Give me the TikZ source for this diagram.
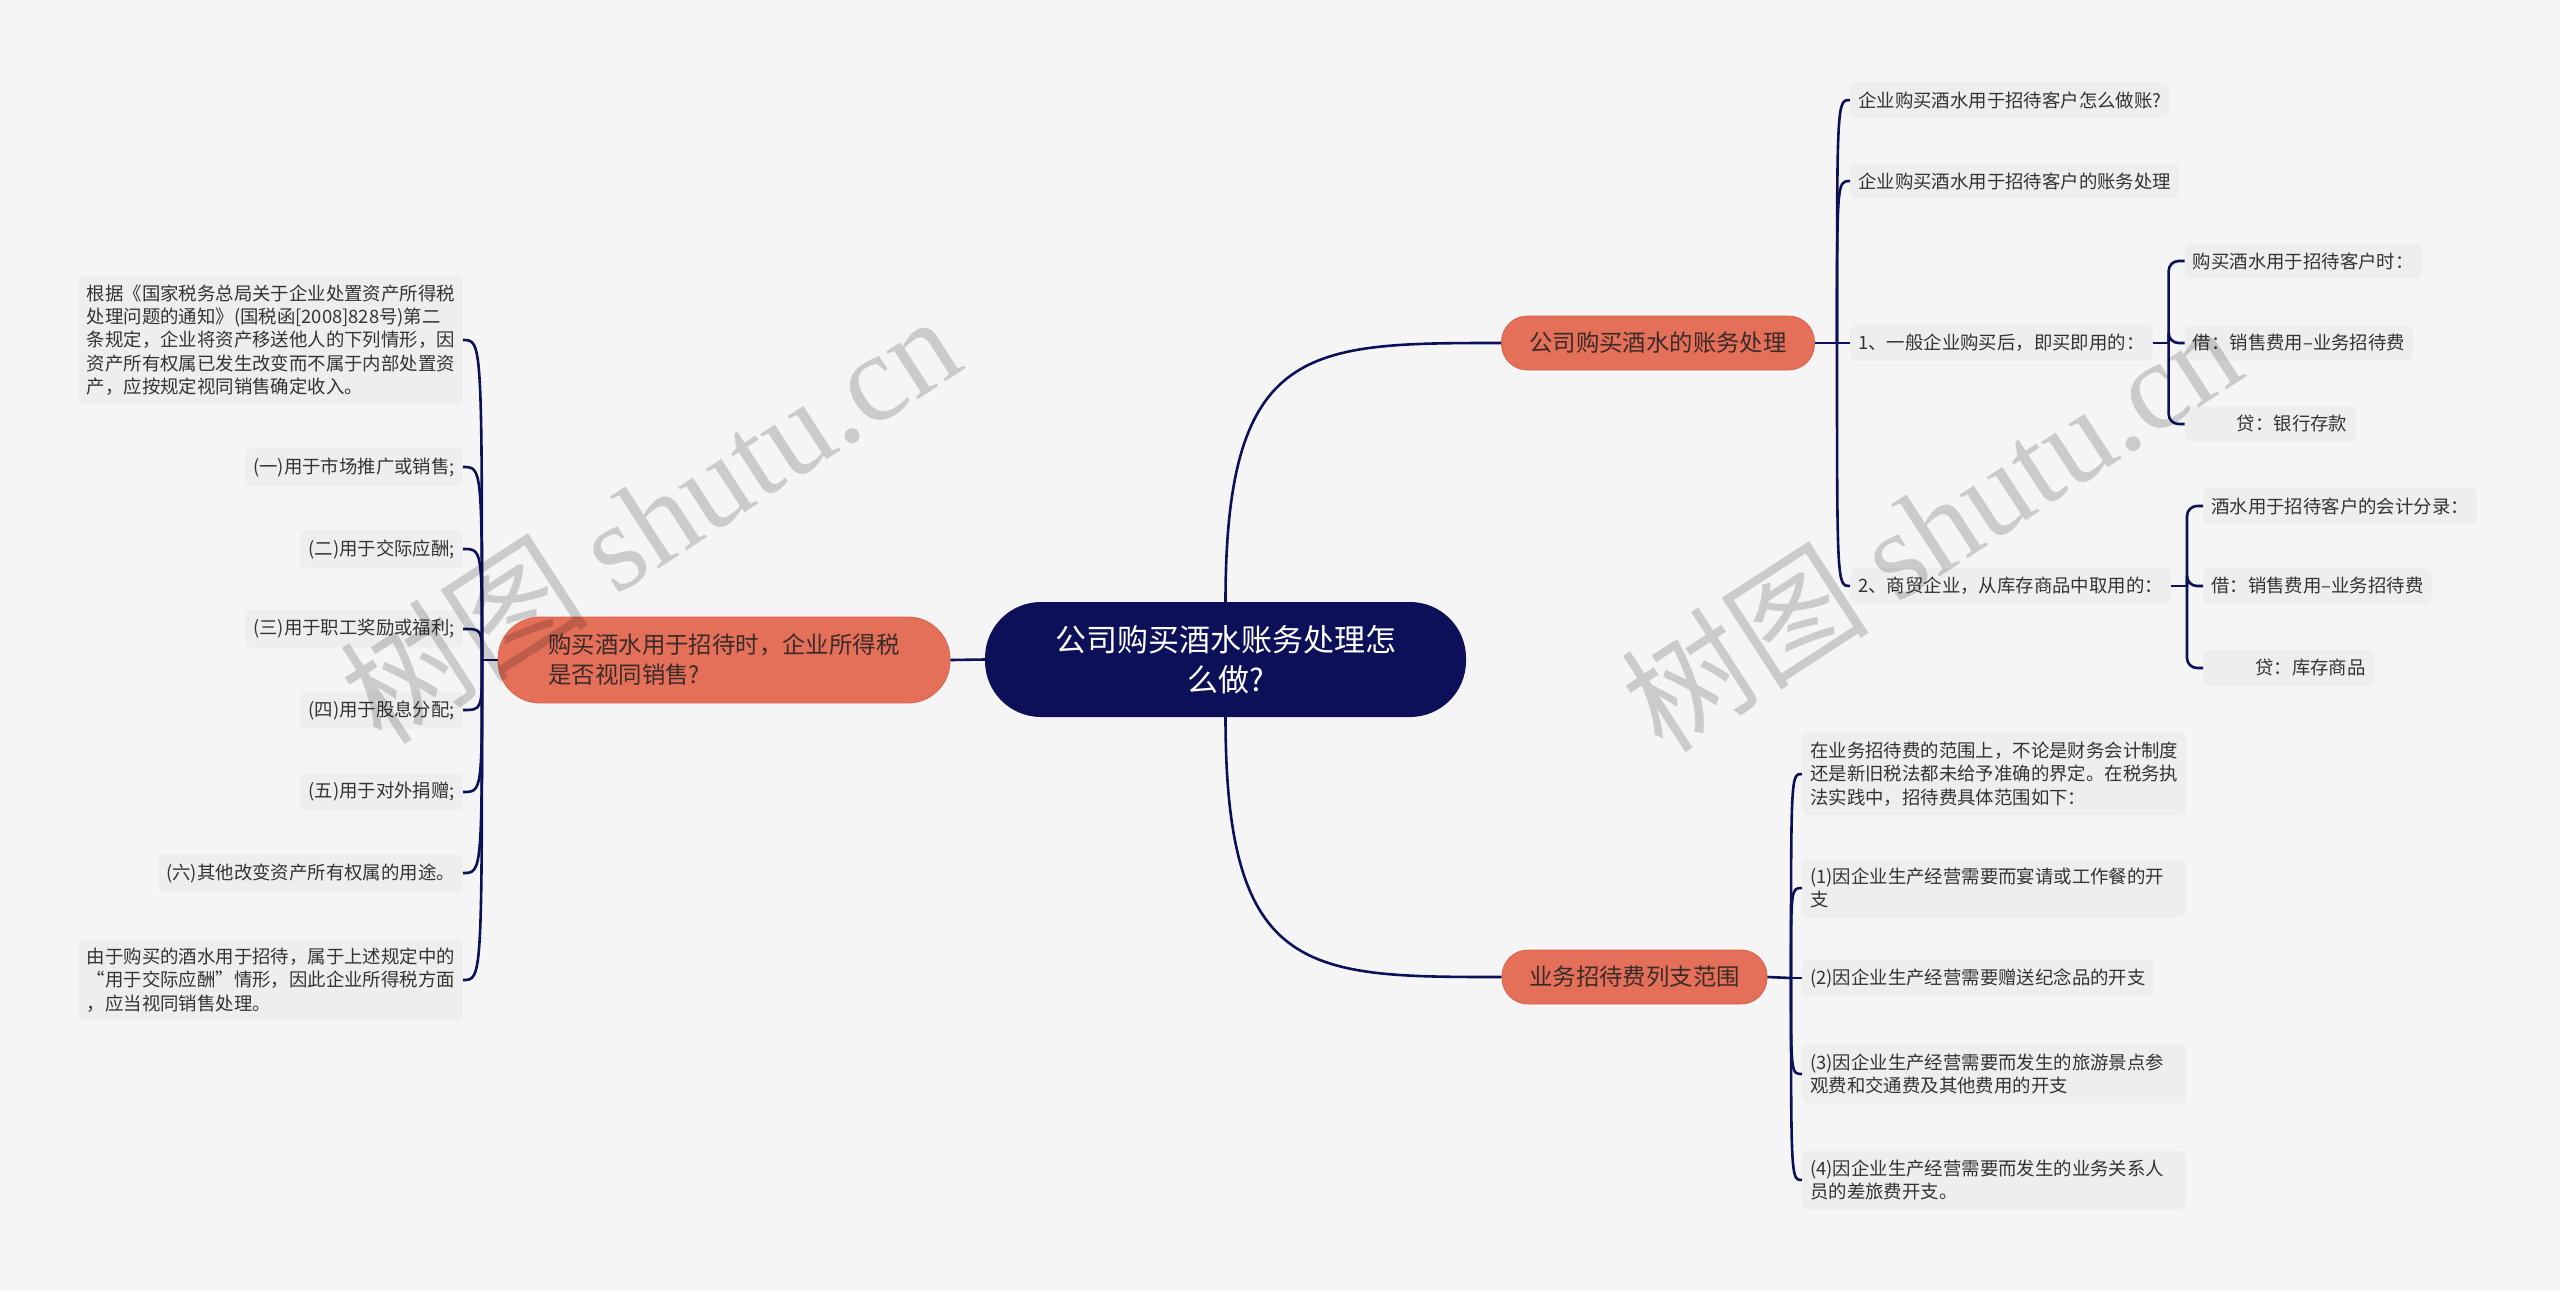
\documentclass[tikz,border=0pt]{standalone}
\usepackage{fontspec}
\setmainfont{Noto Sans CJK SC}
\newfontfamily\wmserif{Liberation Serif}
\usetikzlibrary{calc}
\definecolor{bg}{HTML}{F5F5F5}
\definecolor{navy}{HTML}{0C1059}
\definecolor{coral}{HTML}{E4705A}
\definecolor{coralb}{HTML}{D9624C}
\definecolor{leafbg}{HTML}{EEEEEE}
\definecolor{leaftext}{HTML}{333333}
\definecolor{maintext}{HTML}{3A2A28}
\begin{document}
\begin{tikzpicture}[x=1pt,y=-1pt,
  leaf/.style={fill=leafbg, rounded corners=6pt, text=leaftext,
    font=\fontsize{18.4}{23.3}\selectfont, inner xsep=8pt, inner ysep=9pt, align=left},
  wide/.style={leaf, text width=368pt},
  mainnode/.style={fill=coral, draw=coralb, line width=0.8pt, text=maintext,
    font=\fontsize{23.4}{30}\selectfont, rounded corners=26pt, minimum height=54pt, inner sep=0pt},
  rootnode/.style={fill=navy, text=white, font=\fontsize{31}{40}\selectfont,
    rounded corners=56pt, minimum width=481pt, minimum height=115pt, align=center, inner sep=0pt},
  link/.style={draw=navy, line width=2.6pt},
  wmark/.style={rotate=33, text=black, text opacity=0.17, font=\fontsize{125}{125}\selectfont, inner sep=0pt}]
\fill[bg] (0,0) rectangle (2560,1291);
\useasboundingbox (0,0) rectangle (2560,1291);

% main nodes
\node[rootnode] (root) at (1225.5,659.5) {公司购买酒水账务处理怎\\么做?};
\node[mainnode, minimum width=452pt, minimum height=86pt, rounded corners=42pt, align=left] (L) at (724,660) {购买酒水用于招待时，企业所得税\\是否视同销售?};
\node[mainnode, minimum width=313pt] (R1) at (1658,343) {公司购买酒水的账务处理};
\node[mainnode, minimum width=265pt] (R2) at (1634.5,977) {业务招待费列支范围};

% left leaves
\node[wide, anchor=east] (c1) at (463,340) {根据《国家税务总局关于企业处置资产所得税\\处理问题的通知》(国税函[2008]828号)第二\\条规定，企业将资产移送他人的下列情形，因\\资产所有权属已发生改变而不属于内部处置资\\产，应按规定视同销售确定收入。};
\node[leaf, anchor=east] (c2) at (463,467) {(一)用于市场推广或销售;};
\node[leaf, anchor=east] (c3) at (463,549) {(二)用于交际应酬;};
\node[leaf, anchor=east] (c4) at (463,629) {(三)用于职工奖励或福利;};
\node[leaf, anchor=east] (c5) at (463,710) {(四)用于股息分配;};
\node[leaf, anchor=east] (c6) at (463,792) {(五)用于对外捐赠;};
\node[leaf, anchor=east] (c7) at (463,873) {(六)其他改变资产所有权属的用途。};
\node[wide, anchor=east] (c8) at (463,980) {由于购买的酒水用于招待，属于上述规定中的\\“用于交际应酬”情形，因此企业所得税方面\\，应当视同销售处理。};

% right top leaves
\node[leaf, anchor=west] (a1) at (1850,100) {企业购买酒水用于招待客户怎么做账?};
\node[leaf, anchor=west] (a2) at (1850,181) {企业购买酒水用于招待客户的账务处理};
\node[leaf, anchor=west] (a3) at (1850,343) {1、一般企业购买后，即买即用的：};
\node[leaf, anchor=west] (a4) at (1850,586) {2、商贸企业，从库存商品中取用的：};

\coordinate (j3) at ($(a3.east)+(16,0)$);
\coordinate (j4) at ($(a4.east)+(16,0)$);
\node[leaf, anchor=west] (b1) at ($(j3|-0,261)+(16,0)$) {购买酒水用于招待客户时：};
\node[leaf, anchor=west] (b2) at ($(j3|-0,343)+(16,0)$) {借：销售费用–业务招待费};
\node[leaf, anchor=west] (b3) at ($(j3|-0,424)+(16,0)$) {\hspace*{2.4em}贷：银行存款};
\node[leaf, anchor=west] (e1) at ($(j4|-0,506)+(16,0)$) {酒水用于招待客户的会计分录：};
\node[leaf, anchor=west] (e2) at ($(j4|-0,586)+(16,0)$) {借：销售费用–业务招待费};
\node[leaf, anchor=west] (e3) at ($(j4|-0,668)+(16,0)$) {\hspace*{2.4em}贷：库存商品};

% right bottom leaves
\node[wide, anchor=west] (d1) at (1802,774) {在业务招待费的范围上，不论是财务会计制度\\还是新旧税法都未给予准确的界定。在税务执\\法实践中，招待费具体范围如下：};
\node[wide, anchor=west] (d2) at (1802,888) {(1)因企业生产经营需要而宴请或工作餐的开\\支};
\node[leaf, anchor=west] (d3) at (1802,978) {(2)因企业生产经营需要赠送纪念品的开支};
\node[wide, anchor=west] (d4) at (1802,1074) {(3)因企业生产经营需要而发生的旅游景点参\\观费和交通费及其他费用的开支};
\node[wide, anchor=west] (d5) at (1802,1180) {(4)因企业生产经营需要而发生的业务关系人\\员的差旅费开支。};

% junctions
\coordinate (jL) at (482,660);
\coordinate (jR1) at (1837,343);
\coordinate (jR2) at (1791,978);

% connectors from root
\draw[link] (root.west) -- (L.east);
\draw[link] (root.north) .. controls ($(root.north |- R1.west)!0.0!(R1.west)$) and ($(root.north |- R1.west)!0.3!(R1.west)$) .. (R1.west);
\draw[link] (root.south) .. controls ($(root.south |- R2.west)!0.0!(R2.west)$) and ($(root.south |- R2.west)!0.3!(R2.west)$) .. (R2.west);

% left bracket
\draw[link] (L.west) -- (jL);
\foreach \c in {c1,c2,c3,c4,c5,c6,c7,c8}
  \draw[link] (jL) .. controls (jL |- \c.east) and (jL |- \c.east) .. (\c.east);

% right top bracket
\draw[link] (R1.east) -- (jR1);
\foreach \c in {a1,a2,a3,a4}
  \draw[link] (jR1) .. controls (jR1 |- \c.west) and (jR1 |- \c.west) .. (\c.west);
\draw[link] (a3.east) -- (j3);
\foreach \c in {b1,b2,b3}
  \draw[link, rounded corners=10pt] (j3) |- (\c.west);
\draw[link] (a4.east) -- (j4);
\foreach \c in {e1,e2,e3}
  \draw[link, rounded corners=10pt] (j4) |- (\c.west);

% right bottom bracket
\draw[link] (R2.east) -- (jR2);
\foreach \c in {d1,d2,d3,d4,d5}
  \draw[link] (jR2) .. controls (jR2 |- \c.west) and (jR2 |- \c.west) .. (\c.west);

% watermarks
\node[wmark] (wm1) at (649,518) {树图 {\wmserif shutu.cn}};
\node[wmark] (wm2) at (1930,526) {树图 {\wmserif shutu.cn}};
\end{tikzpicture}
\end{document}
